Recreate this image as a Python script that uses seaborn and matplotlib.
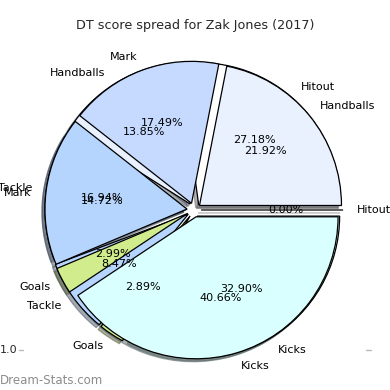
import matplotlib
matplotlib.use("Agg")
import matplotlib.pyplot as plt
import seaborn as sns
from matplotlib.lines import Line2D

sns.set_style("white")
plt.rcParams['font.family'] = ['DejaVu Sans']

categories = ["Hitout", "Handballs", "Mark", "Tackle", "Goals", "Kicks"]
# season A (upper layer) percentages
values_a = [0.00, 21.92, 17.49, 16.94, 2.99, 40.66]
# season B (lower layer) percentages
values_b = [27.18, 13.85, 14.72, 8.47, 2.89, 32.90]
colors = ["#ffffff", "#e9f1ff", "#c6d9ff", "#b5d5ff", "#d1ec8c", "#daffff"]
explode = [0.05] * 6

fig = plt.figure(figsize=(3.9, 3.9), dpi=100)
ax = fig.add_axes([16.5 / 390, 2.5 / 390, 355 / 390, 355 / 390])

wp = dict(edgecolor="black", linewidth=0.9)
tp = dict(fontsize=8, color="black")
shadow = dict(ox=-0.015, oy=-0.015, shade=0.6)
ax.pie(values_b, labels=categories, colors=colors, explode=explode,
       autopct='%1.2f%%', shadow=shadow, startangle=0, wedgeprops=wp,
       textprops=tp, frame=False)
ax.pie(values_a, labels=categories, colors=colors, explode=explode,
       autopct='%1.2f%%', shadow=shadow, startangle=0, wedgeprops=wp,
       textprops=tp, frame=False)
ax.set_xlim(-1.25, 1.25)
ax.set_ylim(-1.25, 1.25)
ax.set_aspect("equal")

fig.suptitle("DT score spread for Zak Jones (2017)", y=1 - 25 / 390,
             va="center", fontsize=9.2)

# stray axis tick remnants
fig.text(0 / 390, 1 - 350 / 390, "1.0", fontsize=8, va="center", ha="left")
fig.add_artist(Line2D([19 / 390, 23 / 390], [1 - 350 / 390] * 2,
                      color="#bbbbbb", lw=1, transform=fig.transFigure))
fig.add_artist(Line2D([366 / 390, 371 / 390], [1 - 350 / 390] * 2,
                      color="#bbbbbb", lw=1, transform=fig.transFigure))

fig.text(0, 1 - 380 / 390, "Dream-Stats.com", fontsize=8.5, color="#8c8c8c",
         va="center", ha="left")

fig.savefig("out.png", dpi=100)
